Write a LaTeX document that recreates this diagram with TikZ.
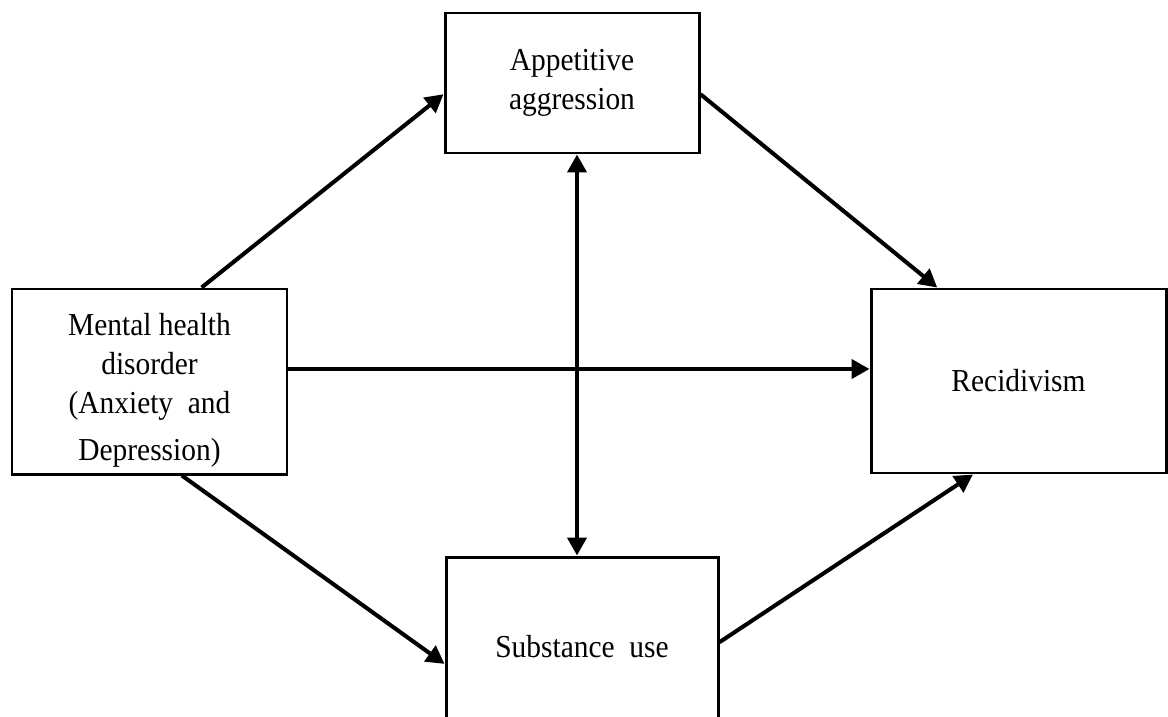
\documentclass[tikz,border=0pt]{standalone}
\usepackage{fontspec}
\setmainfont{Liberation Serif}[FakeStretch=0.92]
\usetikzlibrary{arrows.meta}
\begin{document}
\begin{tikzpicture}[
  box/.style={draw, line width=1.7pt, inner sep=0pt, align=center,
    font=\fontsize{18.2}{22.2}\selectfont},
  arr/.style={line width=2.3pt, -{Triangle[length=0.36cm,width=0.38cm]}},
  arrs/.style={line width=2.3pt, {Triangle[length=0.36cm,width=0.38cm]}-{Triangle[length=0.36cm,width=0.38cm]}}]
\useasboundingbox (0,0) rectangle (23.36,-14.32);
\clip (0,0) rectangle (23.36,-14.32);
\node[box, minimum width=5.08cm, minimum height=2.8cm] (aa) at (11.44,-1.66) {Appetitive\\aggression};
\node[box, minimum width=5.5cm, minimum height=3.7cm] (mh) at (2.99,-7.63)
  {\rule{0pt}{0.8cm}Mental health\\disorder\\(Anxiety\ \ and\\[0.16cm]Depression)};
\node[box, minimum width=5.9cm, minimum height=3.68cm] (rec) at (20.37,-7.62) {Recidivism};
\node[box, minimum width=5.44cm, minimum height=3.6cm] (su) at (11.64,-12.94) {Substance\ \ use};
\draw[arr] (mh.61.6) -- (aa.185);
\draw[arr] (aa.355.5) -- (rec.131.2);
\draw[arr] ([yshift=0.25cm]mh.east) -- ([yshift=0.25cm]mh.east -| rec.west);
\draw[arr] (mh.289.6) -- (su.187.5);
\draw[arr] (su.2.1) -- (rec.244.2);
\draw[arrs] ([xshift=0.1cm]aa.south) -- ([xshift=0.1cm]aa.south |- su.north);
\end{tikzpicture}
\end{document}
